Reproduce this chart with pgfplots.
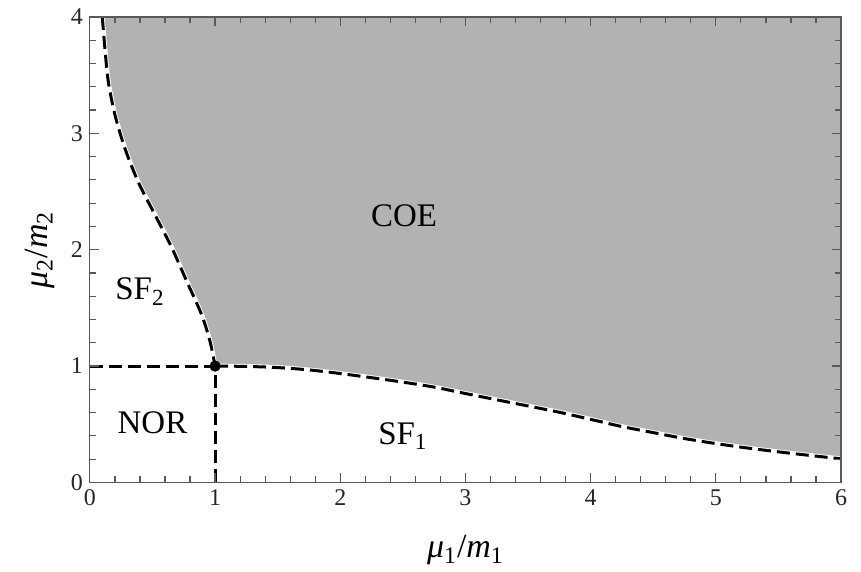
\documentclass[border=0pt]{standalone}
\usepackage{pgfplots}
\pgfplotsset{compat=1.18}
\usepackage{fontspec}
\setmainfont{Liberation Serif}
\pgfplotstableread{
x y
0.099 4.0
0.12 3.73
0.147 3.445
0.2 3.16
0.28 2.87
0.387 2.58
0.52 2.30
0.653 2.02
0.773 1.73
0.893 1.44
0.96 1.21
1.0 1.0
}\uppercurve
\pgfplotstableread{
x y
1.0 1.0
1.25 0.997
1.5 0.987
1.75 0.967
2.0 0.936
2.25 0.9
2.5 0.862
2.75 0.819
3.0 0.764
3.25 0.71
3.5 0.657
3.75 0.603
4.0 0.542
4.25 0.48
4.5 0.428
4.75 0.377
5.0 0.334
5.25 0.296
5.5 0.263
5.75 0.232
6.0 0.203
}\lowercurve
\pgfplotstableread{
x y
0.099 4.0
0.12 3.73
0.147 3.445
0.2 3.16
0.28 2.87
0.387 2.58
0.52 2.30
0.653 2.02
0.773 1.73
0.893 1.44
0.96 1.21
1.0 1.0
1.25 0.997
1.5 0.987
1.75 0.967
2.0 0.936
2.25 0.9
2.5 0.862
2.75 0.819
3.0 0.764
3.25 0.71
3.5 0.657
3.75 0.603
4.0 0.542
4.25 0.48
4.5 0.428
4.75 0.377
5.0 0.334
5.25 0.296
5.5 0.263
5.75 0.232
6.0 0.203
6.0 4.0
}\regioncurve
\begin{document}
\begin{tikzpicture}
\begin{axis}[
  scale only axis,
  width=376pt, height=233pt,
  xmin=0, xmax=6, ymin=0, ymax=4,
  xtick={0,1,2,3,4,5,6}, ytick={0,1,2,3,4},
  xticklabels={\textrm{0},\textrm{1},\textrm{2},\textrm{3},\textrm{4},\textrm{5},\textrm{6}},
  yticklabels={\textrm{0},\textrm{1},\textrm{2},\textrm{3},\textrm{4}},
  minor x tick num=4, minor y tick num=4,
  tick align=inside,
  major tick length=4.5pt, minor tick length=3pt,
  axis line style={black!65, line width=0.6pt},
  every tick/.style={black!65, line width=0.6pt},
  tick label style={font=\rmfamily\fontsize{12}{14}\selectfont, text=black!85},
  xlabel={\textit{μ}\textsubscript{1}/\textit{m}\textsubscript{1}},
  ylabel={\textit{μ}\textsubscript{2}/\textit{m}\textsubscript{2}},
  label style={font=\fontsize{17}{20}\selectfont},
  xlabel style={at={(axis description cs:0.5,0)}, anchor=center, yshift=-34pt},
  ylabel style={at={(axis description cs:0,0.5)}, anchor=center, yshift=25pt},
  axis on top,
  clip=true,
]
\addplot[fill=black!30, draw=none] table {\regioncurve} -- cycle;
\addplot[white, line width=2.4pt, smooth] table {\uppercurve};
\addplot[white, line width=2.4pt, smooth] table {\lowercurve};
\addplot[black, line width=1.5pt, dash pattern=on 6.5pt off 3pt, smooth] table {\uppercurve};
\addplot[black, line width=1.5pt, dash pattern=on 6.5pt off 3pt, smooth] table {\lowercurve};
\addplot[black, line width=1.5pt, dash pattern=on 6.5pt off 3pt] coordinates {(0,1) (1,1)};
\addplot[black, line width=1.5pt, dash pattern=on 6.5pt off 3pt] coordinates {(1,0) (1,1)};
\addplot[only marks, mark=*, mark size=2.6pt, black] coordinates {(1,1)};
\node[font=\fontsize{16.5}{18}\selectfont] at (axis cs:2.51,2.29) {COE};
\node[font=\fontsize{16.5}{18}\selectfont] at (axis cs:0.40,1.64) {SF\textsubscript{2}};
\node[font=\fontsize{16.5}{18}\selectfont] at (axis cs:0.50,0.51) {NOR};
\node[font=\fontsize{16.5}{18}\selectfont] at (axis cs:2.5,0.395) {SF\textsubscript{1}};
\coordinate (ll) at (rel axis cs:0,0);
\coordinate (ur) at (rel axis cs:1,1);
\end{axis}
\path ([xshift=-45pt,yshift=-44pt]ll) rectangle ([xshift=10pt,yshift=8.5pt]ur);
\end{tikzpicture}
\end{document}
